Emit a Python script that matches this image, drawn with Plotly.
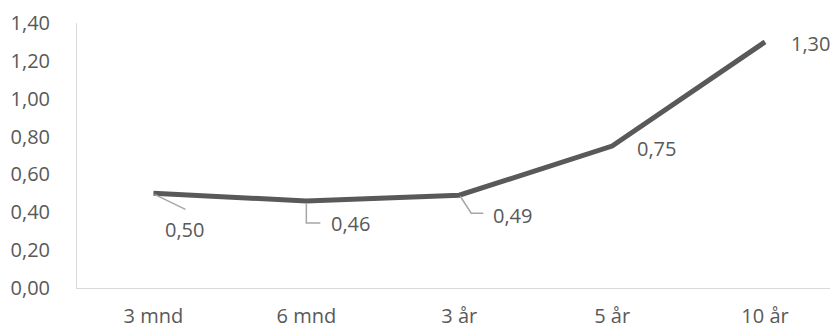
import plotly.graph_objects as go

# Series
categories = ["3 mnd", "6 mnd", "3 år", "5 år", "10 år"]
values = [0.50, 0.46, 0.49, 0.75, 1.30]
value_labels = ["0,50", "0,46", "0,49", "0,75", "1,30"]
y_ticks = [0.0, 0.2, 0.4, 0.6, 0.8, 1.0, 1.2, 1.4]

TEXT = "#595959"
AXIS = "#d9d9d9"
LEADER = "#a6a6a6"
FONT = "Open Sans"
FSIZE = 20

x_idx = list(range(len(categories)))

fig = go.Figure()
fig.add_trace(go.Scatter(
    x=x_idx, y=values, mode="lines",
    line=dict(color="#595959", width=5),
    hoverinfo="skip", showlegend=False,
))

# label offsets (pixels) relative to each point
label_offsets = [(10, -36), (23, -23), (32, -20), (23, -2), (24, -2)]
annotations = []
for i, (txt, (dx, dy)) in enumerate(zip(value_labels, label_offsets)):
    annotations.append(dict(
        x=x_idx[i], y=values[i], xref="x", yref="y", text=txt,
        showarrow=False, xanchor="left", yanchor="middle",
        xshift=dx, yshift=dy,
        font=dict(family=FONT, size=FSIZE, color=TEXT),
    ))

# leader lines as pixel paths anchored at the data point (negative y = below)
leader_paths = {
    0: "M 1,-1 L 32,-16",
    1: "M 0,-3 L 0,-22 L 14,-22",
    2: "M 1,-1 L 12,-18 L 24,-18",
}
shapes = []
for i, path in leader_paths.items():
    shapes.append(dict(
        type="path", path=path,
        xref="x", yref="y", xsizemode="pixel", ysizemode="pixel",
        xanchor=x_idx[i], yanchor=values[i],
        line=dict(color=LEADER, width=1.5),
    ))

fig.update_layout(
    width=830, height=328,
    margin=dict(l=77, r=0, t=23, b=40),
    paper_bgcolor="white", plot_bgcolor="white",
    separators=",.",
    annotations=annotations, shapes=shapes,
    font=dict(family=FONT, size=FSIZE, color=TEXT),
)
fig.update_xaxes(
    range=[-0.5, 4.425], tickvals=x_idx, ticktext=categories,
    showgrid=False, zeroline=False, showline=True, linecolor=AXIS, linewidth=1,
    ticks="", ticklabelstandoff=10, automargin=False,
    tickfont=dict(family=FONT, size=FSIZE, color=TEXT),
)
fig.update_yaxes(
    range=[0, 1.4], tickvals=y_ticks, tickformat=".2f",
    showgrid=False, zeroline=False, showline=True, linecolor=AXIS, linewidth=1,
    ticks="", ticklabelstandoff=22, automargin=False,
    tickfont=dict(family=FONT, size=FSIZE, color=TEXT),
)

fig.write_html("out.html")
